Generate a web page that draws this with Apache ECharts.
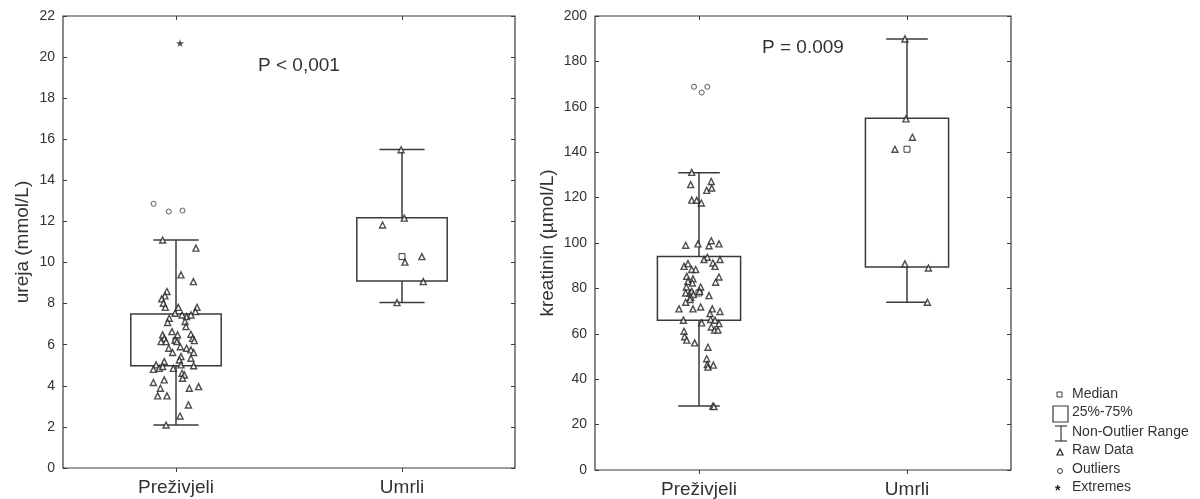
<!DOCTYPE html>
<html>
<head>
<meta charset="utf-8">
<style>
  html, body { margin: 0; padding: 0; background: #fff; }
  #chart { width: 1200px; height: 499px; }
</style>
<script src="https://cdn.jsdelivr.net/npm/echarts@6/dist/echarts.min.js"></script>
</head>
<body>
<div id="chart"></div>
<script>
// ---------------- DATA ----------------
const categories = ['Preživjeli', 'Umrli'];

// Urea (mmol/L)
const ureaAxisMin = 0, ureaAxisMax = 22, ureaAxisStep = 2;
// box stats: [low whisker, Q1, median, Q3, high whisker]
const ureaBoxSurvived = [2.09, 4.98, 6.2, 7.5, 11.1];
const ureaBoxDied = [8.06, 9.1, 10.29, 12.18, 15.5];
const ureaSurvivedValues = [11.1, 10.7, 9.4, 9.07, 8.59, 8.38, 8.23, 8.02, 7.82, 7.82, 7.82, 7.61, 7.53, 7.45, 7.37, 7.45,
  7.29, 7.08, 7.13, 6.88, 6.64, 6.48, 6.48, 6.51, 6.31, 6.31, 6.15, 6.15, 6.23, 6.15, 6.2, 5.83, 5.9, 5.83, 5.75, 5.62,
  5.62, 5.42, 5.34, 5.18, 5.26, 5.02, 4.85, 4.8, 4.94, 4.85, 5.02, 4.98, 4.61, 4.53, 4.37, 4.16, 4.29, 3.88, 3.88, 3.96,
  3.51, 3.51, 3.07, 2.53, 2.09];
const ureaSurvivedJitter = [-0.059, 0.088, 0.022, 0.077, -0.04, -0.049, -0.063, -0.056, -0.047, 0.01, 0.093, 0.086, -0.004, 0.027, 0.047, 0.066,
  -0.03, -0.037, 0.04, 0.044, -0.018, -0.059, 0.007, 0.066, 0.074, -0.052, -0.066, -0.044, -0.004, 0.004, 0.081, -0.032, 0.019, 0.047, 0.066, 0.078,
  -0.015, 0.022, 0.066, -0.052, 0.015, -0.088, -0.074, -0.1, -0.059, -0.012, 0.022, 0.078, 0.027, 0.037, 0.029, -0.1, -0.052, -0.069, 0.059, 0.1,
  -0.081, -0.04, 0.055, 0.018, -0.044];
const ureaDiedValues = [15.49, 12.16, 11.83, 10.29, 10.02, 9.07, 8.05];
const ureaDiedJitter = [-0.004, 0.01, -0.086, 0.088, 0.013, 0.094, -0.022];
const ureaOutlierValues = [12.86, 12.48, 12.53];
const ureaOutlierJitter = [-0.099, -0.032, 0.029];
const ureaExtremeValues = [20.68];
const ureaExtremeJitter = [0.018];

// Creatinine (µmol/L)
const creatAxisMin = 0, creatAxisMax = 200, creatAxisStep = 20;
const creatBoxSurvived = [28.2, 66, 78, 94, 131];
const creatBoxDied = [73.9, 89.4, 141.3, 155, 189.9];
const creatSurvivedValues = [131.1, 125.7, 127.1, 123.2, 124.2, 118.9, 118.8, 117.6, 99, 99.6, 98.8, 101, 99.6, 93.7, 92.7, 92.7,
  91.2, 89.7, 89.7, 90.9, 88.3, 88.3, 85, 85.3, 83.1, 84.2, 82.7, 80.6, 80.6, 78.7, 82.4, 78, 78, 78.7, 77.3, 76.1, 75.1, 76.8,
  73.9, 71, 71, 71.8, 71, 69.8, 68.9, 66, 64.8, 66.3, 66, 64.5, 63, 61.6, 61.6, 61.1, 58.7, 57.2, 56, 54.1, 49, 46.5, 46.2,
  45.3, 28.2, 27.9];
const creatSurvivedJitter = [-0.035, -0.04, 0.059, 0.037, 0.061, -0.035, -0.011, 0.011, -0.064, -0.005, 0.048, 0.059, 0.096, 0.04, 0.024, 0.101,
  0.067, 0.077, -0.072, -0.053, -0.035, -0.016, 0.096, -0.059, -0.053, -0.029, 0.08, -0.061, 0.008, 0.003, -0.032, -0.064, -0.043, -0.035, -0.027, -0.04, -0.043, 0.048,
  -0.064, -0.096, -0.029, 0.008, 0.064, 0.101, 0.053, -0.075, 0.013, 0.056, 0.077, 0.096, 0.059, 0.075, 0.091, -0.072, -0.069, -0.059, -0.021, 0.043, 0.037, 0.04, 0.069,
  0.043, 0.067, 0.072];
const creatDiedValues = [189.9, 154.7, 146.6, 141.3, 90.8, 89, 73.9];
const creatDiedJitter = [-0.01, -0.005, 0.026, -0.058, -0.01, 0.103, 0.098];
const creatOutlierValues = [168.8, 166.3, 168.8];
const creatOutlierJitter = [-0.024, 0.013, 0.04];

const legendLabels = ['Median', '25%-75%', 'Non-Outlier Range', 'Raw Data', 'Outliers', 'Extremes'];
const pLabels = ['P < 0,001', 'P = 0.009'];
const axisNames = ['ureja (mmol/L)', 'kreatinin (µmol/L)'];

// ---------------- HELPERS ----------------
const FONT = '"Liberation Sans", Arial, sans-serif';
const INK = '#3a3a3a';
const TXT = '#333';
const STAR = 'path://M50,0 L61,35 L98,35 L68,57 L79,91 L50,70 L21,91 L32,57 L2,35 L39,35 Z';

function pts(group, values, jitter) {
  return values.map((v, i) => [group + jitter[i], v]);
}
function boxRow(group, b) { return [group, b[0], b[1], b[2], b[3], b[4]]; }

function renderBox(params, api) {
  const x = api.value(0);
  const low = api.coord([x, api.value(1)]);
  const q1 = api.coord([x, api.value(2)]);
  const med = api.coord([x, api.value(3)]);
  const q3 = api.coord([x, api.value(4)]);
  const high = api.coord([x, api.value(5)]);
  const band = api.size([1, 0])[0];
  const bw = band * 0.4, cw = band * 0.2;
  const cx = q1[0];
  const st = { stroke: INK, lineWidth: 1.5, fill: null };
  return {
    type: 'group',
    children: [
      { type: 'rect', shape: { x: cx - bw / 2, y: q3[1], width: bw, height: q1[1] - q3[1] }, style: { stroke: INK, lineWidth: 1.5, fill: 'none' } },
      { type: 'line', shape: { x1: cx, y1: high[1], x2: cx, y2: q3[1] }, style: st },
      { type: 'line', shape: { x1: cx, y1: q1[1], x2: cx, y2: low[1] }, style: st },
      { type: 'line', shape: { x1: cx - cw / 2, y1: high[1], x2: cx + cw / 2, y2: high[1] }, style: st },
      { type: 'line', shape: { x1: cx - cw / 2, y1: low[1], x2: cx + cw / 2, y2: low[1] }, style: st },
      { type: 'rect', shape: { x: cx - 3, y: med[1] - 3, width: 6, height: 6 }, style: { stroke: INK, lineWidth: 1, fill: '#fff' } }
    ]
  };
}

function makeAxes(gi, name, ymin, ymax, step, nameGap) {
  const xAxes = [
    { type: 'category', gridIndex: gi, data: categories, boundaryGap: true,
      axisLine: { show: false, onZero: false }, axisTick: { show: true, alignWithLabel: true, length: 4, inside: false, lineStyle: { color: INK } },
      axisLabel: { fontSize: 19, color: TXT, fontFamily: FONT, margin: 10 } },
    { type: 'category', gridIndex: gi, data: categories, position: 'top', boundaryGap: true,
      axisLine: { show: false, onZero: false }, axisTick: { show: true, alignWithLabel: true, length: 4, inside: true, lineStyle: { color: INK } },
      axisLabel: { show: false } },
    { type: 'value', gridIndex: gi, min: -0.5, max: 1.5, show: false,
      axisLine: { show: false, onZero: false }, splitLine: { show: false } }
  ];
  const yAxes = [
    { type: 'value', gridIndex: gi, min: ymin, max: ymax, interval: step, position: 'left',
      name: name, nameLocation: 'middle', nameGap: nameGap, nameRotate: 90,
      nameTextStyle: { fontSize: 19, color: TXT, fontFamily: FONT },
      axisLine: { show: false, onZero: false }, splitLine: { show: false },
      axisTick: { show: true, inside: true, length: 4, lineStyle: { color: INK } },
      axisLabel: { fontSize: 14, color: TXT, fontFamily: FONT, margin: 8 } },
    { type: 'value', gridIndex: gi, min: ymin, max: ymax, interval: step, position: 'right',
      axisLine: { show: false, onZero: false }, splitLine: { show: false },
      axisTick: { show: true, inside: true, length: 4, lineStyle: { color: INK } },
      axisLabel: { show: false } }
  ];
  return { xAxes, yAxes };
}

const A0 = makeAxes(0, axisNames[0], ureaAxisMin, ureaAxisMax, ureaAxisStep, 31);
const A1 = makeAxes(1, axisNames[1], creatAxisMin, creatAxisMax, creatAxisStep, 38);

function triSeries(xi, yi, data) {
  return { type: 'scatter', xAxisIndex: xi, yAxisIndex: yi, data: data, symbol: 'triangle', symbolSize: 6, z: 5,
    itemStyle: { color: '#fff', borderColor: '#222', borderWidth: 1.4 }, silent: true };
}
function circSeries(xi, yi, data) {
  return { type: 'scatter', xAxisIndex: xi, yAxisIndex: yi, data: data, symbol: 'circle', symbolSize: 5, z: 5,
    itemStyle: { color: '#fff', borderColor: '#333', borderWidth: 1 }, silent: true };
}

const option = {
  backgroundColor: '#fff',
  animation: false,
  grid: [
    { left: 63, top: 16, width: 452, height: 452, show: true, borderColor: INK, borderWidth: 1.2, backgroundColor: 'transparent' },
    { left: 595, top: 16, width: 416, height: 455, show: true, borderColor: INK, borderWidth: 1.2, backgroundColor: 'transparent' }
  ],
  xAxis: [...A0.xAxes, ...A1.xAxes],
  yAxis: [...A0.yAxes, ...A1.yAxes],
  series: [
    { type: 'custom', xAxisIndex: 2, yAxisIndex: 0, renderItem: renderBox, z: 2,
      encode: { x: 0, y: [1, 2, 3, 4, 5] },
      data: [boxRow(0, ureaBoxSurvived), boxRow(1, ureaBoxDied)] },
    triSeries(2, 0, pts(0, ureaSurvivedValues, ureaSurvivedJitter)),
    triSeries(2, 0, pts(1, ureaDiedValues, ureaDiedJitter)),
    circSeries(2, 0, pts(0, ureaOutlierValues, ureaOutlierJitter)),
    { type: 'scatter', xAxisIndex: 2, yAxisIndex: 0, data: pts(0, ureaExtremeValues, ureaExtremeJitter),
      symbol: STAR, symbolSize: 8, z: 5, itemStyle: { color: '#222' } },

    { type: 'custom', xAxisIndex: 5, yAxisIndex: 2, renderItem: renderBox, z: 2,
      encode: { x: 0, y: [1, 2, 3, 4, 5] },
      data: [boxRow(0, creatBoxSurvived), boxRow(1, creatBoxDied)] },
    triSeries(5, 2, pts(0, creatSurvivedValues, creatSurvivedJitter)),
    triSeries(5, 2, pts(1, creatDiedValues, creatDiedJitter)),
    circSeries(5, 2, pts(0, creatOutlierValues, creatOutlierJitter))
  ],
  graphic: [
    { type: 'text', left: 258, top: 56, style: { text: pLabels[0], font: '19px ' + FONT, fill: TXT } },
    { type: 'text', left: 762, top: 38, style: { text: pLabels[1], font: '19px ' + FONT, fill: TXT } },
    // legend
    { type: 'rect', shape: { x: 1057, y: 392, width: 5, height: 5 }, style: { fill: '#fff', stroke: INK, lineWidth: 1 } },
    { type: 'rect', shape: { x: 1053, y: 406, width: 15, height: 16 }, style: { fill: 'none', stroke: INK, lineWidth: 1.2 } },
    { type: 'line', shape: { x1: 1055, y1: 426, x2: 1067, y2: 426 }, style: { stroke: INK, lineWidth: 1.2 } },
    { type: 'line', shape: { x1: 1061, y1: 426, x2: 1061, y2: 441 }, style: { stroke: INK, lineWidth: 1.2 } },
    { type: 'line', shape: { x1: 1055, y1: 441, x2: 1067, y2: 441 }, style: { stroke: INK, lineWidth: 1.2 } },
    { type: 'polygon', shape: { points: [[1060, 449], [1063, 455], [1057, 455]] }, style: { fill: '#fff', stroke: '#222', lineWidth: 1.2 } },
    { type: 'circle', shape: { cx: 1060, cy: 471, r: 2.5 }, style: { fill: '#fff', stroke: '#333', lineWidth: 1 } },
    { type: 'text', left: 1055, top: 484, style: { text: '*', font: 'bold 14px ' + FONT, fill: '#222' } },
    { type: 'text', left: 1072, top: 387, style: { text: legendLabels[0], font: '14px ' + FONT, fill: TXT } },
    { type: 'text', left: 1072, top: 405, style: { text: legendLabels[1], font: '14px ' + FONT, fill: TXT } },
    { type: 'text', left: 1072, top: 425, style: { text: legendLabels[2], font: '14px ' + FONT, fill: TXT } },
    { type: 'text', left: 1072, top: 443, style: { text: legendLabels[3], font: '14px ' + FONT, fill: TXT } },
    { type: 'text', left: 1072, top: 462, style: { text: legendLabels[4], font: '14px ' + FONT, fill: TXT } },
    { type: 'text', left: 1072, top: 480, style: { text: legendLabels[5], font: '14px ' + FONT, fill: TXT } }
  ]
};

const chart = echarts.init(document.getElementById('chart'), null, { renderer: 'canvas' });
chart.setOption(option);
</script>
</body>
</html>
